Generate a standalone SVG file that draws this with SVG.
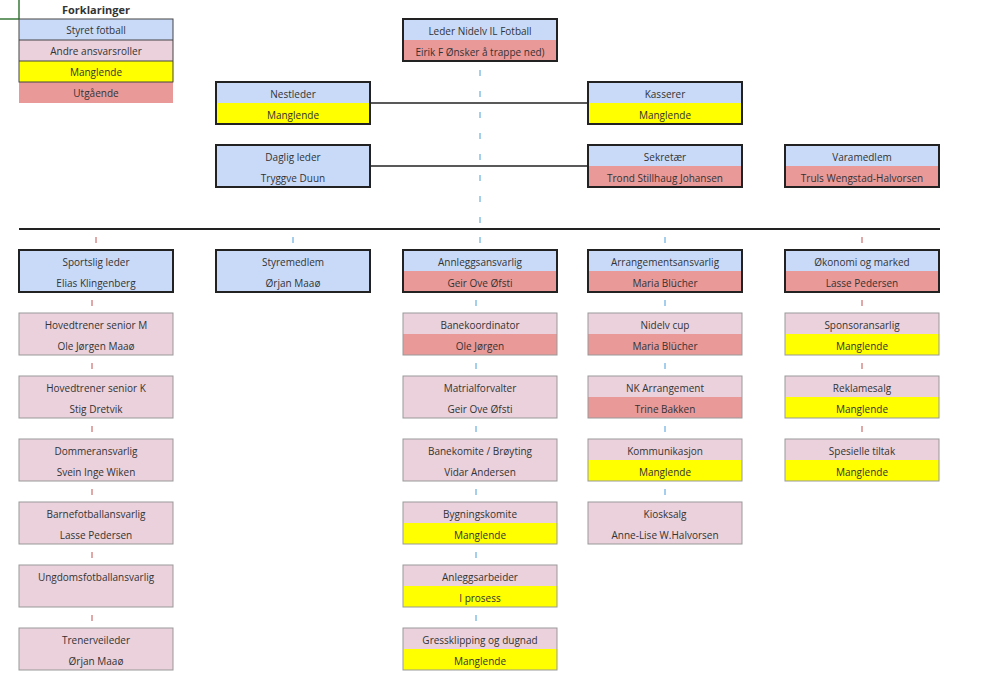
<svg xmlns="http://www.w3.org/2000/svg" width="985" height="692" viewBox="0 0 985 692">
<style>
text{font-family:"Open Sans","Liberation Sans",sans-serif;font-size:10px;fill:#333;text-anchor:middle}
.b{fill:#c9daf8}.p{fill:#ead1dc}.y{fill:#ffff00}.r{fill:#ea9999}
.bd{fill:none;stroke:#222;stroke-width:2}.th{stroke:#999;stroke-width:1}.o{fill:none}
.tk{stroke:#c0504d;stroke-width:1}.tb{stroke:#4a9fd8;stroke-width:1}
</style>
<rect width="985" height="692" fill="#fff"/>
<path d="M0 19H19V0" fill="none" stroke="#3a7a3a" stroke-width="1.5"/>
<g id="legend">
<text x="96" y="14" style="font-weight:bold;font-size:11px">Forklaringer</text>
<rect class="b" x="19" y="19" width="154" height="21"/><text x="96" y="34">Styret fotball</text>
<rect class="p" x="19" y="40" width="154" height="21"/><text x="96" y="55">Andre ansvarsroller</text>
<rect class="y" x="19" y="61" width="154" height="21"/><text x="96" y="76">Manglende</text>
<rect class="r" x="19" y="82" width="154" height="21"/><text x="96" y="97">Utgående</text>
<rect x="19" y="19" width="154" height="63" fill="none" stroke="#444"/>
<line x1="19" y1="40" x2="173" y2="40" stroke="#444"/><line x1="19" y1="61" x2="173" y2="61" stroke="#444"/>
</g>
<g id="connectors">
<line x1="480" y1="61" x2="480" y2="229" class="tb" stroke-dasharray="6 15" stroke-dashoffset="-9"/>
<line x1="370" y1="103" x2="588" y2="103" stroke="#222" stroke-width="1.5"/>
<line x1="370" y1="166" x2="588" y2="166" stroke="#222" stroke-width="1.5"/>
<line x1="19" y1="229" x2="940" y2="229" stroke="#222" stroke-width="2"/>
<g class="tk"><line x1="96" y1="237" x2="96" y2="243"/><line x1="862" y1="237" x2="862" y2="243"/>
<line x1="92" y1="300" x2="92" y2="306"/><line x1="92" y1="363" x2="92" y2="369"/><line x1="92" y1="426" x2="92" y2="432"/><line x1="92" y1="489" x2="92" y2="495"/><line x1="92" y1="552" x2="92" y2="558"/><line x1="92" y1="615" x2="92" y2="621"/>
<line x1="862" y1="300" x2="862" y2="306"/><line x1="862" y1="363" x2="862" y2="369"/><line x1="862" y1="426" x2="862" y2="432"/></g>
<g class="tb"><line x1="293" y1="237" x2="293" y2="243"/><line x1="480" y1="237" x2="480" y2="243"/><line x1="665" y1="237" x2="665" y2="243"/>
<line x1="476" y1="300" x2="476" y2="306"/><line x1="476" y1="363" x2="476" y2="369"/><line x1="476" y1="426" x2="476" y2="432"/><line x1="476" y1="489" x2="476" y2="495"/><line x1="476" y1="552" x2="476" y2="558"/><line x1="476" y1="615" x2="476" y2="621"/>
<line x1="665" y1="300" x2="665" y2="306"/><line x1="665" y1="363" x2="665" y2="369"/><line x1="665" y1="426" x2="665" y2="432"/><line x1="665" y1="489" x2="665" y2="495"/></g>
</g>
<g id="leder"><rect class="b" x="403" y="19" width="154" height="21"/><rect class="r" x="403" y="40" width="154" height="21"/><rect class="bd" x="403" y="19" width="154" height="42"/><text x="480" y="35">Leder Nidelv IL Fotball</text><text x="480" y="56">Eirik F Ønsker å trappe ned)</text></g>
<g id="nestleder"><rect class="b" x="216" y="82" width="154" height="21"/><rect class="y" x="216" y="103" width="154" height="21"/><rect class="bd" x="216" y="82" width="154" height="42"/><text x="293" y="98">Nestleder</text><text x="293" y="119">Manglende</text></g>
<g id="kasserer"><rect class="b" x="588" y="82" width="154" height="21"/><rect class="y" x="588" y="103" width="154" height="21"/><rect class="bd" x="588" y="82" width="154" height="42"/><text x="665" y="98">Kasserer</text><text x="665" y="119">Manglende</text></g>
<g id="daglig"><rect class="b" x="216" y="145" width="154" height="42"/><rect class="bd" x="216" y="145" width="154" height="42"/><text x="293" y="161">Daglig leder</text><text x="293" y="182">Tryggve Duun</text></g>
<g id="sekretaer"><rect class="b" x="588" y="145" width="154" height="21"/><rect class="r" x="588" y="166" width="154" height="21"/><rect class="bd" x="588" y="145" width="154" height="42"/><text x="665" y="161">Sekretær</text><text x="665" y="182">Trond Stillhaug Johansen</text></g>
<g id="vara"><rect class="b" x="785" y="145" width="154" height="21"/><rect class="r" x="785" y="166" width="154" height="21"/><rect class="bd" x="785" y="145" width="154" height="42"/><text x="862" y="161">Varamedlem</text><text x="862" y="182">Truls Wengstad-Halvorsen</text></g>
<g id="sportslig"><rect class="b" x="19" y="250" width="154" height="42"/><rect class="bd" x="19" y="250" width="154" height="42"/><text x="96" y="266">Sportslig leder</text><text x="96" y="287">Elias Klingenberg</text></g>
<g id="styremedlem"><rect class="b" x="216" y="250" width="154" height="42"/><rect class="bd" x="216" y="250" width="154" height="42"/><text x="293" y="266">Styremedlem</text><text x="293" y="287">Ørjan Maaø</text></g>
<g id="anlegg"><rect class="b" x="403" y="250" width="154" height="21"/><rect class="r" x="403" y="271" width="154" height="21"/><rect class="bd" x="403" y="250" width="154" height="42"/><text x="480" y="266">Annleggsansvarlig</text><text x="480" y="287">Geir Ove Øfsti</text></g>
<g id="arrangement"><rect class="b" x="588" y="250" width="154" height="21"/><rect class="r" x="588" y="271" width="154" height="21"/><rect class="bd" x="588" y="250" width="154" height="42"/><text x="665" y="266">Arrangementsansvarlig</text><text x="665" y="287">Maria Blücher</text></g>
<g id="okonomi"><rect class="b" x="785" y="250" width="154" height="21"/><rect class="r" x="785" y="271" width="154" height="21"/><rect class="bd" x="785" y="250" width="154" height="42"/><text x="862" y="266">Økonomi og marked</text><text x="862" y="287">Lasse Pedersen</text></g>
<g id="c1r1"><rect class="p th" x="19" y="313" width="154" height="42"/><text x="96" y="329">Hovedtrener senior M</text><text x="96" y="350">Ole Jørgen Maaø</text></g>
<g id="c1r2"><rect class="p th" x="19" y="376" width="154" height="42"/><text x="96" y="392">Hovedtrener senior K</text><text x="96" y="413">Stig Dretvik</text></g>
<g id="c1r3"><rect class="p th" x="19" y="439" width="154" height="42"/><text x="96" y="455">Dommeransvarlig</text><text x="96" y="476">Svein Inge Wiken</text></g>
<g id="c1r4"><rect class="p th" x="19" y="502" width="154" height="42"/><text x="96" y="518">Barnefotballansvarlig</text><text x="96" y="539">Lasse Pedersen</text></g>
<g id="c1r5"><rect class="p th" x="19" y="565" width="154" height="42"/><text x="96" y="581">Ungdomsfotballansvarlig</text></g>
<g id="c1r6"><rect class="p th" x="19" y="628" width="154" height="42"/><text x="96" y="644">Trenerveileder</text><text x="96" y="665">Ørjan Maaø</text></g>
<g id="c3r1"><rect class="p" x="403" y="313" width="154" height="21"/><rect class="r" x="403" y="334" width="154" height="21"/><rect class="th o" x="403" y="313" width="154" height="42"/><text x="480" y="329">Banekoordinator</text><text x="480" y="350">Ole Jørgen</text></g>
<g id="c3r2"><rect class="p th" x="403" y="376" width="154" height="42"/><text x="480" y="392">Matrialforvalter</text><text x="480" y="413">Geir Ove Øfsti</text></g>
<g id="c3r3"><rect class="p th" x="403" y="439" width="154" height="42"/><text x="480" y="455">Banekomite / Brøyting</text><text x="480" y="476">Vidar Andersen</text></g>
<g id="c3r4"><rect class="p" x="403" y="502" width="154" height="21"/><rect class="y" x="403" y="523" width="154" height="21"/><rect class="th o" x="403" y="502" width="154" height="42"/><text x="480" y="518">Bygningskomite</text><text x="480" y="539">Manglende</text></g>
<g id="c3r5"><rect class="p" x="403" y="565" width="154" height="21"/><rect class="y" x="403" y="586" width="154" height="21"/><rect class="th o" x="403" y="565" width="154" height="42"/><text x="480" y="581">Anleggsarbeider</text><text x="480" y="602">I prosess</text></g>
<g id="c3r6"><rect class="p" x="403" y="628" width="154" height="21"/><rect class="y" x="403" y="649" width="154" height="21"/><rect class="th o" x="403" y="628" width="154" height="42"/><text x="480" y="644">Gressklipping og dugnad</text><text x="480" y="665">Manglende</text></g>
<g id="c4r1"><rect class="p" x="588" y="313" width="154" height="21"/><rect class="r" x="588" y="334" width="154" height="21"/><rect class="th o" x="588" y="313" width="154" height="42"/><text x="665" y="329">Nidelv cup</text><text x="665" y="350">Maria Blücher</text></g>
<g id="c4r2"><rect class="p" x="588" y="376" width="154" height="21"/><rect class="r" x="588" y="397" width="154" height="21"/><rect class="th o" x="588" y="376" width="154" height="42"/><text x="665" y="392">NK Arrangement</text><text x="665" y="413">Trine Bakken</text></g>
<g id="c4r3"><rect class="p" x="588" y="439" width="154" height="21"/><rect class="y" x="588" y="460" width="154" height="21"/><rect class="th o" x="588" y="439" width="154" height="42"/><text x="665" y="455">Kommunikasjon</text><text x="665" y="476">Manglende</text></g>
<g id="c4r4"><rect class="p th" x="588" y="502" width="154" height="42"/><text x="665" y="518">Kiosksalg</text><text x="665" y="539">Anne-Lise W.Halvorsen</text></g>
<g id="c5r1"><rect class="p" x="785" y="313" width="154" height="21"/><rect class="y" x="785" y="334" width="154" height="21"/><rect class="th o" x="785" y="313" width="154" height="42"/><text x="862" y="329">Sponsoransarlig</text><text x="862" y="350">Manglende</text></g>
<g id="c5r2"><rect class="p" x="785" y="376" width="154" height="21"/><rect class="y" x="785" y="397" width="154" height="21"/><rect class="th o" x="785" y="376" width="154" height="42"/><text x="862" y="392">Reklamesalg</text><text x="862" y="413">Manglende</text></g>
<g id="c5r3"><rect class="p" x="785" y="439" width="154" height="21"/><rect class="y" x="785" y="460" width="154" height="21"/><rect class="th o" x="785" y="439" width="154" height="42"/><text x="862" y="455">Spesielle tiltak</text><text x="862" y="476">Manglende</text></g>
</svg>
